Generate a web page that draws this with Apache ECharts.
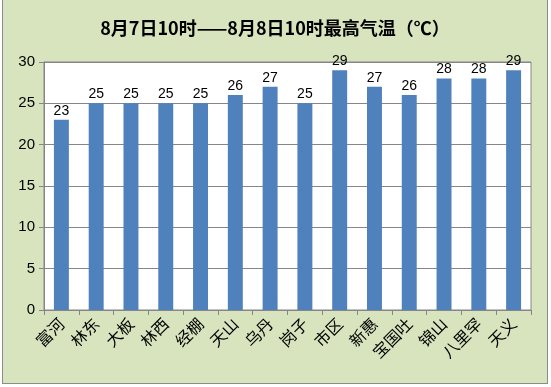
<!DOCTYPE html>
<html><head><meta charset="utf-8">
<script src="https://cdn.jsdelivr.net/npm/echarts@6/dist/echarts.min.js"></script>
<style>
html,body{margin:0;padding:0;background:#fff;width:551px;height:387px;overflow:hidden;}
#c{position:absolute;left:2px;top:-1px;width:546px;height:385px;background:#d7e4bd;border:1px solid #8c8c8c;box-sizing:border-box;}
</style></head>
<body><div id="c"></div>
<script>
const titleText = '8月7日10时——8月8日10时最高气温（℃）';
const categories = ['富河','林东','大板','林西','经棚','天山','乌丹','岗子','市区','新惠','宝国吐','锦山','八里罕','天义'];
const values = [23,25,25,25,25,26,27,25,29,27,26,28,28,29];
const yTicks = {min:0, max:30, interval:5};

const chart = echarts.init(document.getElementById('c'), null, {renderer:'canvas'});
chart.setOption({
  animation:false,
  title:{text:titleText,left:'center',top:14,textStyle:{fontSize:18,fontWeight:'bold',color:'#000',fontFamily:'"Noto Sans CJK SC", sans-serif'}},
  grid:{left:41,right:16,top:62,bottom:73,show:true,backgroundColor:'#fff',borderColor:'#868686',borderWidth:1,containLabel:false},
  xAxis:{type:'category',data:categories,
    axisLine:{lineStyle:{color:'#868686'}},
    axisTick:{show:true,length:5,alignWithLabel:false,lineStyle:{color:'#868686'}},
    axisLabel:{rotate:45,fontSize:16,color:'#000',margin:11,interval:0,fontFamily:'"Noto Sans CJK SC", sans-serif'}},
  yAxis:{type:'value',min:yTicks.min,max:yTicks.max,interval:yTicks.interval,
    axisLine:{show:true,lineStyle:{color:'#868686'}},
    axisTick:{show:true,length:5,lineStyle:{color:'#868686'}},
    splitLine:{lineStyle:{color:'#868686'}},
    axisLabel:{fontSize:15,color:'#000',margin:9,fontFamily:'"Liberation Sans", sans-serif'}},
  series:[{type:'bar',data:values,barWidth:'43%',itemStyle:{color:'#4f81bd'},
    label:{show:true,position:'top',distance:2,fontSize:14,color:'#000',fontFamily:'"Liberation Sans", sans-serif'}}]
});
</script></body></html>
